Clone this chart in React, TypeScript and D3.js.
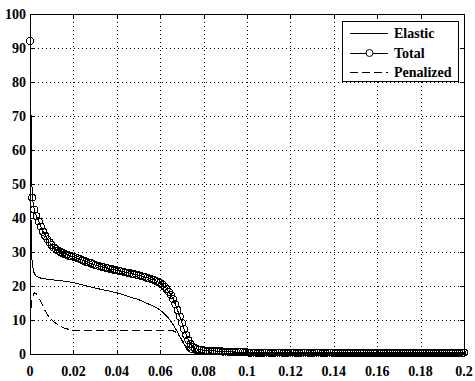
import React, { useRef, useEffect } from "react";
import * as d3 from "d3";

// Total: sampled every 0.001 from 0 to 0.2
const totalY = [
  92, 46, 42.5, 40.5, 39, 37.5, 36, 34.8, 33.7, 32.8,
  32.0, 31.3, 30.8, 30.4, 30.0, 29.7, 29.4, 29.2, 28.9, 28.8,
  28.6, 28.4, 28.1, 27.9, 27.6, 27.4, 27.1, 26.9, 26.7, 26.4,
  26.2, 26.0, 25.8, 25.6, 25.5, 25.3, 25.2, 25.0, 24.9, 24.7,
  24.6, 24.5, 24.3, 24.2, 24.0, 23.9, 23.8, 23.6, 23.5, 23.3,
  23.2, 23.0, 22.8, 22.6, 22.4, 22.2, 22.0, 21.8, 21.5, 21.2,
  20.9, 20.4, 19.8, 19.1, 18.3, 17.3, 16.1, 14.6, 12.9, 11.0,
  9.1, 7.3, 5.6, 4.1, 2.9, 2.1, 1.7, 1.5, 1.3, 1.2,
  1.1, 1.0, 1.0, 0.9, 0.9, 0.9, 0.8, 0.8, 0.8, 0.7,
  0.7, 0.7, 0.6, 0.6, 0.6, 0.6, 0.5, 0.5, 0.5, 0.5,
  0.5, 0.4, 0.4, 0.4, 0.4, 0.4, 0.4, 0.4, 0.4, 0.4,
  0.4, 0.4, 0.4, 0.4, 0.4, 0.4, 0.4, 0.4, 0.4, 0.4,
  0.4, 0.4, 0.4, 0.4, 0.4, 0.4, 0.4, 0.4, 0.4, 0.4,
  0.4, 0.4, 0.4, 0.4, 0.4, 0.4, 0.4, 0.4, 0.4, 0.4,
  0.4, 0.3, 0.3, 0.3, 0.3, 0.3, 0.3, 0.3, 0.3, 0.3,
  0.3, 0.3, 0.3, 0.3, 0.3, 0.3, 0.3, 0.3, 0.3, 0.3,
  0.3, 0.3, 0.3, 0.3, 0.3, 0.3, 0.3, 0.3, 0.3, 0.3,
  0.3, 0.3, 0.3, 0.3, 0.3, 0.3, 0.3, 0.3, 0.3, 0.3,
  0.3, 0.3, 0.3, 0.3, 0.3, 0.3, 0.3, 0.3, 0.3, 0.3,
  0.3, 0.3, 0.3, 0.3, 0.3, 0.3, 0.3, 0.3, 0.3, 0.3,
  0.4,
];
const totalX = totalY.map((_, i) => i / 1000);

const elasticX = [0, 0.0003, 0.0006, 0.001, 0.0015, 0.002, 0.003, 0.005, 0.008, 0.012, 0.016, 0.02, 0.025, 0.03, 0.035, 0.04, 0.045, 0.05, 0.055, 0.058, 0.06, 0.062, 0.064, 0.066, 0.068, 0.07, 0.072, 0.073, 0.074, 0.076, 0.08, 0.1, 0.2];
const elasticY = [72, 50, 31, 27, 24.8, 23.6, 22.8, 22.3, 22.0, 21.7, 21.4, 21.0, 20.2, 19.4, 18.7, 18.0, 17.0, 16.0, 14.6, 13.7, 12.9, 11.8, 10.4, 8.6, 6.4, 4.0, 1.6, 0.9, 0.5, 0.3, 0.15, 0.1, 0.1];

const penalizedX = [0, 0.0004, 0.001, 0.002, 0.003, 0.004, 0.005, 0.006, 0.007, 0.008, 0.009, 0.01, 0.012, 0.014, 0.016, 0.018, 0.02, 0.025, 0.03, 0.065, 0.066, 0.067, 0.068, 0.069, 0.07, 0.071, 0.072, 0.073, 0.074, 0.076, 0.08, 0.2];
const penalizedY = [10, 13, 16.5, 18, 17.7, 16.6, 15.3, 14.0, 12.7, 11.6, 10.7, 10.0, 9.0, 8.2, 7.6, 7.2, 7.0, 6.9, 6.9, 6.9, 6.8, 6.5, 6.0, 5.2, 4.2, 3.2, 2.2, 1.3, 0.6, 0.2, 0.1, 0.05];

const xTicks = [0, 0.02, 0.04, 0.06, 0.08, 0.1, 0.12, 0.14, 0.16, 0.18, 0.2];
const yTicks = [0, 10, 20, 30, 40, 50, 60, 70, 80, 90, 100];
const legendLabels = ["Elastic", "Total", "Penalized"];

const FONT = "'Liberation Serif', 'Times New Roman', serif";

function Chart() {
  const width = 475;
  const height = 381;
  const margin = { top: 14, left: 30, bottom: 27, right: 11 };
  const svgRef = useRef<SVGSVGElement | null>(null);

  useEffect(() => {
    const svg = d3.select(svgRef.current);
    svg.selectAll("*").remove();

    const x = d3.scaleLinear().domain([0, 0.2]).range([margin.left, width - margin.right]);
    const y = d3.scaleLinear().domain([0, 100]).range([height - margin.bottom, margin.top]);
    const x0 = margin.left, x1 = width - margin.right;
    const y0 = height - margin.bottom, y1 = margin.top;
    const px = (v: number) => Math.round(v) + 0.5;

    // grid
    const grid = svg.append("g").attr("stroke", "#000").attr("stroke-dasharray", "1,3").attr("shape-rendering", "crispEdges");
    xTicks.slice(1, -1).forEach(t => {
      grid.append("line").attr("x1", px(x(t))).attr("x2", px(x(t))).attr("y1", y1).attr("y2", y0);
    });
    yTicks.slice(1, -1).forEach(t => {
      grid.append("line").attr("x1", x0).attr("x2", x1).attr("y1", px(y(t))).attr("y2", px(y(t)));
    });

    // box + ticks
    const axes = svg.append("g").attr("stroke", "#000").attr("shape-rendering", "crispEdges");
    axes.append("rect").attr("x", px(x0)).attr("y", px(y1)).attr("width", Math.round(x1) - Math.round(x0)).attr("height", Math.round(y0) - Math.round(y1)).attr("fill", "none");
    const tl = 4;
    xTicks.forEach(t => {
      axes.append("line").attr("x1", px(x(t))).attr("x2", px(x(t))).attr("y1", y0).attr("y2", y0 - tl);
      axes.append("line").attr("x1", px(x(t))).attr("x2", px(x(t))).attr("y1", y1).attr("y2", y1 + tl);
    });
    yTicks.forEach(t => {
      axes.append("line").attr("x1", x0).attr("x2", x0 + tl).attr("y1", px(y(t))).attr("y2", px(y(t)));
      axes.append("line").attr("x1", x1).attr("x2", x1 - tl).attr("y1", px(y(t))).attr("y2", px(y(t)));
    });

    // tick labels
    const labels = svg.append("g").attr("font-family", FONT).attr("font-weight", "bold").attr("font-size", 14).attr("fill", "#000");
    xTicks.forEach(t => {
      labels.append("text").attr("x", x(t)).attr("y", y0 + 22).attr("text-anchor", "middle").text(String(+t.toFixed(2)));
    });
    yTicks.forEach(t => {
      labels.append("text").attr("x", x0 - 4).attr("y", y(t) + 5).attr("text-anchor", "end").text(String(t));
    });

    // series
    const line = d3.line<[number, number]>().x(d => x(d[0])).y(d => y(d[1]));
    const plot = svg.append("g").attr("fill", "none").attr("stroke", "#000").attr("stroke-width", 1)
      .attr("shape-rendering", "crispEdges");
    const elastic = elasticX.map((v, i) => [v, elasticY[i]] as [number, number]);
    const penalized = penalizedX.map((v, i) => [v, penalizedY[i]] as [number, number]);
    const total = totalX.map((v, i) => [v, totalY[i]] as [number, number]);

    plot.append("path").attr("d", line(elastic));
    plot.append("path").attr("d", line(penalized)).attr("stroke-dasharray", "8,4");
    plot.append("path").attr("d", line(total));
    plot.selectAll("circle.m").data(total).enter().append("circle")
      .attr("cx", d => x(d[0])).attr("cy", d => y(d[1])).attr("r", 3.5);

    // legend
    const lg = svg.append("g");
    lg.append("rect").attr("x", 342.5).attr("y", 21.5).attr("width", 116).attr("height", 60)
      .attr("fill", "#fff").attr("stroke", "#000").attr("shape-rendering", "crispEdges");
    const rows = [33.5, 53, 72.5];
    legendLabels.forEach((name, i) => {
      const ly = rows[i];
      const l = lg.append("line").attr("x1", 350).attr("x2", 388).attr("y1", ly).attr("y2", ly)
        .attr("stroke", "#000").attr("shape-rendering", "crispEdges");
      if (name === "Penalized") l.attr("stroke-dasharray", "8,4");
      if (name === "Total") lg.append("circle").attr("cx", 369.5).attr("cy", ly).attr("r", 3.5).attr("fill", "#fff").attr("stroke", "#000");
      lg.append("text").attr("x", 394).attr("y", ly + 4.5).attr("font-family", FONT).attr("font-weight", "bold")
        .attr("font-size", 14).text(name);
    });
  }, []);

  return (
    <svg ref={svgRef} width={width} height={height} style={{ position: "absolute", left: 0, top: 0, background: "#fff" }}></svg>
  );
}

export default function App() {
  return <Chart />;
}
